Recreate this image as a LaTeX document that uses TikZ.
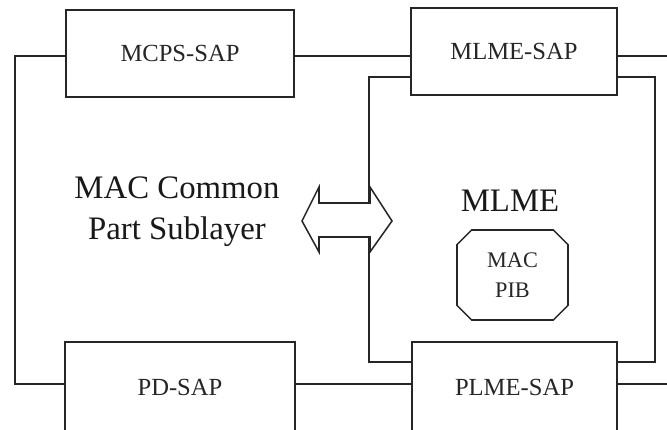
\documentclass[tikz,border=0pt]{standalone}
\usepackage{fontspec}
\setmainfont{Liberation Serif}
\usetikzlibrary{shapes.misc}
\begin{document}
\begin{tikzpicture}[x=0.03cm, y=-0.03cm, line width=1.3pt,
  sap/.style={draw=black!85, fill=white, inner sep=0pt, text=black!85, font=\fontsize{21}{25}\selectfont},
  title/.style={align=center, inner sep=0pt, text=black!90, font=\fontsize{28}{35}\selectfont},
  link/.style={draw=black!85}]
\useasboundingbox (0,0) rectangle (667,430);
\clip (0,0) rectangle (667,430);
% service access points
\node[sap, minimum width=6.84cm, minimum height=2.61cm] (mcps) at (180,53.5) {MCPS-SAP};
\node[sap, minimum width=6.18cm, minimum height=2.61cm] (mlme) at (514,51.5) {MLME-SAP};
\node[sap, minimum width=6.9cm, minimum height=2.7cm] (pd) at (180,387) {PD-SAP};
\node[sap, minimum width=6.15cm, minimum height=2.7cm] (plme) at (514.5,387) {PLME-SAP};

% wiring between the SAPs
\coordinate (upper) at (15,56);
\coordinate (lower) at (15,384);
\coordinate (upperR) at (667,56);
\coordinate (lowerR) at (667,384);
\draw[link] (mcps.west |- upper) -- (upper) -- (lower) -- (pd.west |- lower);
\draw[link] (mcps.east |- upper) -- (mlme.west |- upper);
\draw[link] (pd.east |- lower) -- (plme.west |- lower);
\draw[link] (mlme.east |- upper) -- (upperR);
\draw[link] (plme.east |- lower) -- (lowerR);

% MLME loop
\coordinate (loopTL) at (369,77);
\coordinate (loopBR) at (655,362);
\draw[link] (loopTL -| mlme.west) -- (loopTL) |- (loopBR -| plme.west);
\draw[link] (loopTL -| mlme.east) -| (loopBR) -- (loopBR -| plme.east);

% exchange arrow
\draw[link, fill=white, line join=miter] (302,221) -- (319,187) -- (319,203) -- (370,203) -- (370,187)
  -- (392,221) -- (370,252) -- (370,237) -- (319,237) -- (319,252) -- cycle;

\node[title] (mcps-txt) at (177,212) {MAC Common\\Part Sublayer};
\node[title] (mlme-txt) at (510,201) {MLME};
\node[draw=black!85, chamfered rectangle, chamfered rectangle xsep=0.22cm, chamfered rectangle ysep=0.22cm,
  minimum width=3.33cm, minimum height=2.7cm, inner sep=0pt, align=center, text=black!85,
  font=\fontsize{19}{25.6}\selectfont] (pib) at (512.5,275) {MAC\\PIB};
\end{tikzpicture}
\end{document}
